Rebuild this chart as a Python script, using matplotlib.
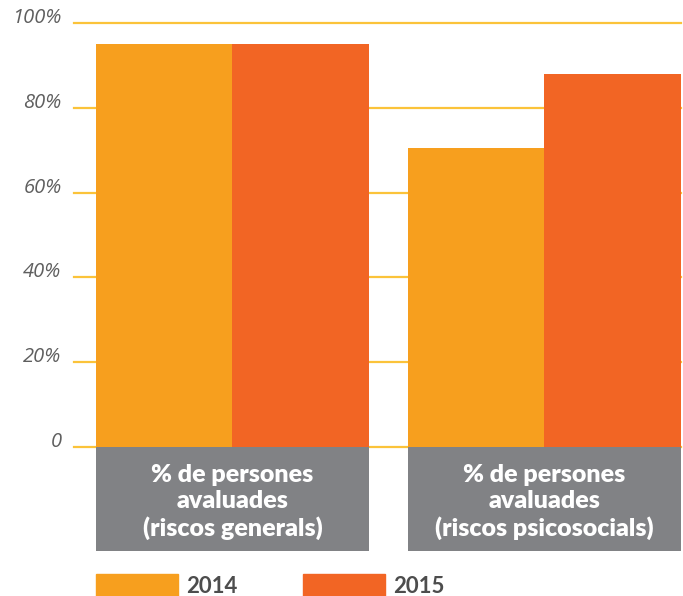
import numpy as np
import matplotlib
matplotlib.use('Agg')
import matplotlib.pyplot as plt
from matplotlib.patches import Rectangle

# data
groups = ["% de persones\navaluades\n(riscos generals)",
          "% de persones\navaluades\n(riscos psicosocials)"]
years = ["2014", "2015"]
vals_2014 = [95, 70.5]
vals_2015 = [95, 88]
yticks = [0, 20, 40, 60, 80, 100]
ytick_labels = ["0", "20%", "40%", "60%", "80%", "100%"]

c2014 = "#F79F1E"
c2015 = "#F26524"
grey = "#818285"
grid_c = "#FBC33A"

W, H = 683, 596
fig = plt.figure(figsize=(W / 100, H / 100), dpi=100)

def px_axes(x0, y0, x1, y1):
    # pixel box (top-left origin) -> figure fraction
    return fig.add_axes([x0 / W, 1 - y1 / H, (x1 - x0) / W, (y1 - y0) / H])

ax = px_axes(74, 23.2, 681, 446.7)
pos = np.arange(len(groups))
bw = 0.4375
ax.bar(pos - bw / 2, vals_2014, width=bw, color=c2014, zorder=2)
ax.bar(pos + bw / 2, vals_2015, width=bw, color=c2015, zorder=2)
ax.set_xlim(-0.508, 1.4375)
ax.set_ylim(0, 100)
ax.set_yticks(yticks)
ax.set_yticklabels(ytick_labels, fontfamily="Open Sans", fontstyle="italic",
                   fontsize=14.5, color="#5f5f5f", va="baseline")
ax.tick_params(axis="y", length=0, pad=9)
ax.tick_params(axis="x", length=0, labelbottom=False)
for y in yticks:
    ax.axhline(y, color=grid_c, lw=1.6, zorder=1, clip_on=False)
for s in ax.spines.values():
    s.set_visible(False)

# grey category boxes under the bars
axb = px_axes(74, 446.7, 681, 550.7)
axb.set_xlim(ax.get_xlim())
axb.set_ylim(0, 1)
axb.bar(pos, 1, width=2 * bw, bottom=0, color=grey, align="center")
for p, g in zip(pos, groups):
    axb.text(p, 0.47, g, ha="center", va="center", color="white",
             fontfamily="Lato", fontweight="heavy", fontsize=18,
             linespacing=1.22)
axb.axis("off")

# legend
for (x0, lab, c) in [(96, years[0], c2014), (303, years[1], c2015)]:
    fig.patches.append(Rectangle((x0 / W, 0), 82 / W, 22 / H,
                                 transform=fig.transFigure, color=c))
    fig.text((x0 + 90) / W, 3 / H, lab, ha="left", va="baseline",
             fontfamily="Lato", fontweight="bold", fontsize=16, color="#4d4d4d")

fig.savefig("out.png", dpi=100)
